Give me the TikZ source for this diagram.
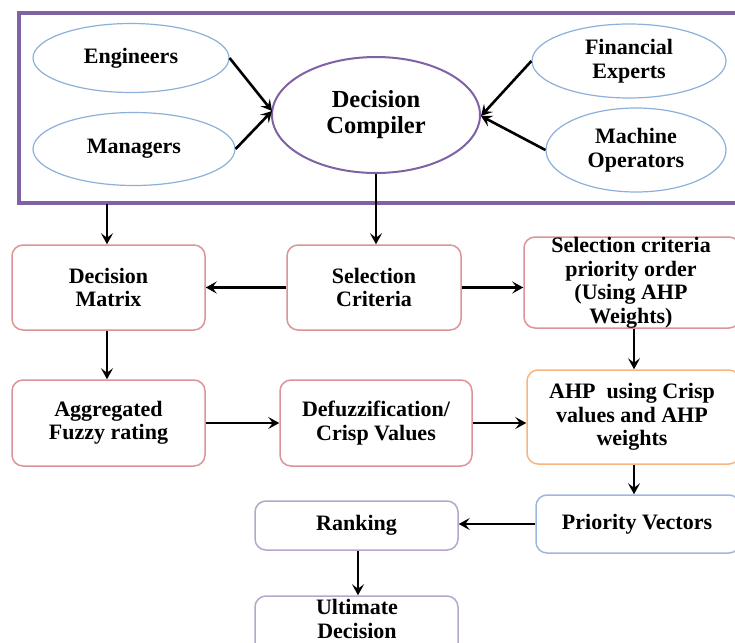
\documentclass[tikz,border=0pt]{standalone}
\usepackage{fontspec}
\setmainfont{Liberation Serif}
\usetikzlibrary{shapes.geometric,arrows.meta}
\definecolor{framepurple}{HTML}{7E62A3}
\definecolor{ellblue}{HTML}{8DB0DA}
\definecolor{boxred}{HTML}{DB9597}
\definecolor{boxorange}{HTML}{F8B57F}
\definecolor{boxblue}{HTML}{9DB8DC}
\definecolor{boxlilac}{HTML}{B6A6CC}
\tikzset{
  x=1pt,y=-1pt,
  txt/.style={font=\fontsize{22}{23.5}\selectfont\bfseries,align=center},
  ell/.style={ellipse,draw=ellblue,line width=1.2pt,fill=white,inner sep=0pt,txt},
  rbox/.style={rectangle,rounded corners=11pt,draw=boxred,line width=1.5pt,fill=white,inner sep=0pt,txt},
  arr/.style={-{Stealth[length=11pt,width=12pt,inset=4.5pt]},line width=2.6pt,black},
}
\newcommand{\bx}[6]{% name, x1,y1,x2,y2, style
  \node[#6,minimum width={#4-#2},minimum height={#5-#3}] (#1) at ({(#2+#4)/2},{(#3+#5)/2}) {};}
\begin{document}
\begin{tikzpicture}
\useasboundingbox (0,0) rectangle (735,642);
\fill[white] (0,0) rectangle (735,642);
% frame
\draw[framepurple,line width=3.2pt] (19,13) rectangle (745,203);
% ellipses
\node[ell,minimum width=196,minimum height=69] (eng) at (131,58) {Engineers};
\node[ell,minimum width=202,minimum height=73] (man) at (134,149) {Managers};
\node[ell,minimum width=194,minimum height=74] (fin) at (629,61) {Financial\\Experts};
\node[ell,minimum width=180,minimum height=84] (mac) at (636,150) {Machine\\Operators};
\node[ell,draw=framepurple,line width=2pt,minimum width=208,minimum height=116,font=\fontsize{24.5}{26}\selectfont\bfseries] (dc) at (376,115) {Decision\\Compiler};
\coordinate (dcl) at (272,111);
\coordinate (dcr) at (481,116);
\draw[arr] (eng.east) -- (dcl);
\draw[arr] (man.east) -- (dcl);
\draw[arr] (fin.west) -- (dcr);
\draw[arr] (mac.west) -- (dcr);
% boxes
\bx{dm}{12}{245}{205}{330}{rbox}
\node[txt] at (dm) {Decision\\Matrix};
\bx{sc}{287}{245}{461}{330}{rbox}
\node[txt] at (sc) {Selection\\Criteria};
\bx{po}{524}{237}{740}{328}{rbox}
\node[txt] at (631,283) {Selection criteria\\priority order\\(Using AHP\\Weights)};
\bx{ag}{12}{380}{205}{466}{rbox}
\node[txt] at (ag) {Aggregated\\Fuzzy rating};
\bx{df}{280}{380}{472}{466}{rbox}
\node[txt] at (df) {Defuzzification/\\Crisp Values};
\bx{ahp}{527}{370}{740}{464}{rbox,draw=boxorange}
\node[txt] at (632,417) {AHP\ \ using Crisp\\values and AHP\\weights};
\bx{pv}{536}{495}{740}{553}{rbox,draw=boxblue}
\node[txt] at (637,524) {Priority Vectors};
\bx{rk}{255}{501}{458}{550}{rbox,draw=boxlilac}
\node[txt] at (rk) {Ranking};
\bx{ud}{255}{596}{458}{660}{rbox,draw=boxlilac}
\node[txt] at (357,619) {Ultimate\\Decision};
% connectors
\coordinate (fb) at (107,204);
\draw[arr] (fb) -- (dm.north -| fb);
\draw[arr] (dc.south) -- (sc.north -| dc.south);
\draw[arr] (sc.west) -- (dm.east);
\draw[arr] (sc.east) -- (sc.east -| po.west);
\draw[arr] (dm.south -| fb) -- (ag.north -| fb);
\coordinate (pox) at (634,0);
\draw[arr] (po.south -| pox) -- (ahp.north -| pox);
\draw[arr] (ag.east) -- (ag.east -| df.west);
\draw[arr] (df.east) -- (df.east -| ahp.west);
\draw[arr] (ahp.south -| pox) -- (pv.north -| pox);
\draw[arr] (pv.west) -- (pv.west -| rk.east);
\coordinate (rkx) at (358,0);
\draw[arr] (rk.south -| rkx) -- (ud.north -| rkx);
\end{tikzpicture}
\end{document}
